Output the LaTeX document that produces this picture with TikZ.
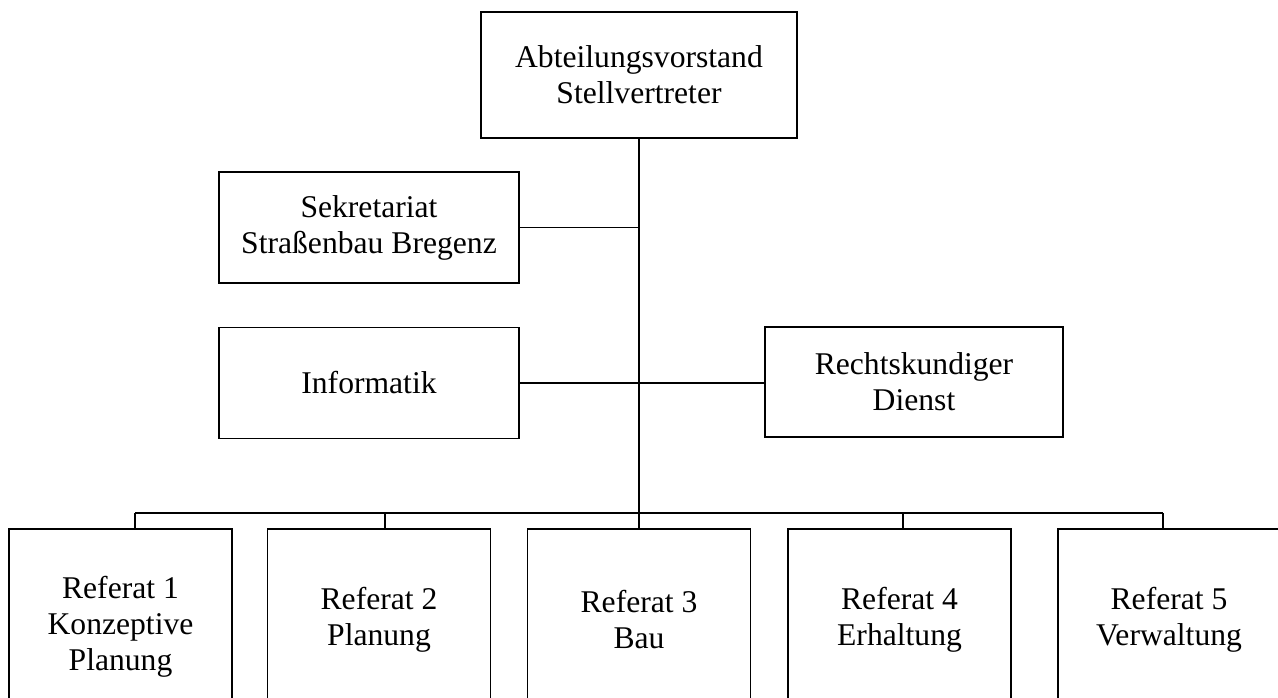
\documentclass[tikz,border=0pt]{standalone}
\usepackage{fontspec}
\setmainfont{Liberation Serif}

\begin{document}
\begin{tikzpicture}[
    x=0.02cm, y=-0.02cm,
    box/.style={rectangle, draw, line width=1.1pt, align=center,
        font=\fontsize{18pt}{20.5pt}\selectfont, inner sep=0pt},
    unit/.style={box, minimum width=6.0cm, minimum height=2.22cm},
    referat/.style={box, minimum width=4.46cm, minimum height=3.64cm},
    line/.style={line width=1.1pt}
]
    \useasboundingbox (0,0) rectangle (1278,697);
    \clip (0,0) rectangle (1278,697);

    \node[box, minimum width=6.32cm, minimum height=2.52cm] (vorstand) at (639,75) {Abteilungsvorstand\\Stellvertreter};
    \node[unit] (sekretariat) at (369,227.5) {Sekretariat\\Straßenbau Bregenz};
    \node[unit] (informatik) at (369,383) {Informatik};
    \node[unit, minimum width=5.96cm, minimum height=2.2cm] (recht) at (914,382) {Rechtskundiger\\Dienst};

    \node[referat, minimum height=3.92cm] (ref1) at (120.5,627) {Referat 1\\Konzeptive\\Planung};
    \node[referat] (ref2) at (379,620) {Referat 2\\Planung};
    \node[referat] (ref3) at (639,620) {Referat 3\\Bau};
    \node[referat] (ref4) at (899.5,620) {Referat 4\\Erhaltung};
    \node[referat] (ref5) at (1169,620) {Referat 5\\Verwaltung};

    \coordinate (bus1) at (135,513);
    \coordinate (bus2) at (385,513);
    \coordinate (bus3) at (639,513);
    \coordinate (bus4) at (903,513);
    \coordinate (bus5) at (1163,513);

    \draw[line] (vorstand.south) -- (bus3);
    \draw[line] (sekretariat.east) -- (sekretariat.east -| vorstand.south);
    \draw[line] (informatik.east) -- (informatik.east -| recht.west);
    \draw[line] (bus1) -- (bus5);
    \foreach \i in {1,...,5}
        \draw[line] (bus\i) -- (bus\i |- ref\i.north);
\end{tikzpicture}
\end{document}
